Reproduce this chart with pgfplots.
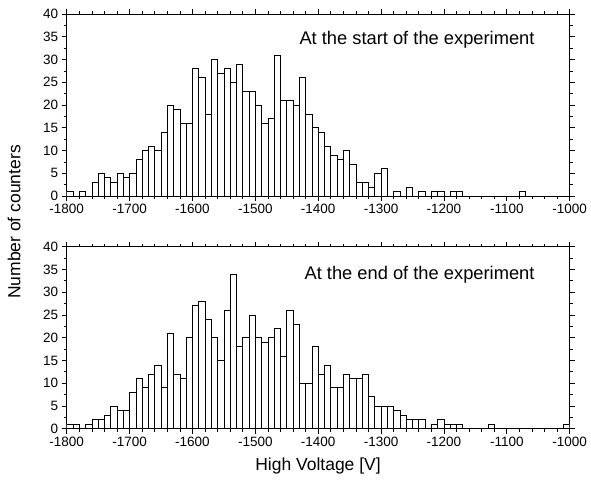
\documentclass[border=0pt]{standalone}
\usepackage{fontspec}
\setmainfont{Liberation Sans}
\usepackage{pgfplots}
\usepackage{pgfplotstable}
\pgfplotsset{compat=1.18}

% counts per 10 V bin, x = bin centre
\pgfplotstableread[row sep=\\]{
x y\\
-1795 1\\ -1785 0\\ -1775 1\\ -1765 0\\ -1755 3\\ -1745 5\\ -1735 4\\ -1725 3\\ -1715 5\\ -1705 4\\
-1695 5\\ -1685 8\\ -1675 10\\ -1665 11\\ -1655 10\\ -1645 14\\ -1635 20\\ -1625 19\\ -1615 16\\ -1605 16\\
-1595 28\\ -1585 26\\ -1575 18\\ -1565 30\\ -1555 27\\ -1545 28\\ -1535 25\\ -1525 29\\ -1515 23\\ -1505 23\\
-1495 20\\ -1485 16\\ -1475 17\\ -1465 31\\ -1455 21\\ -1445 21\\ -1435 20\\ -1425 26\\ -1415 18\\ -1405 15\\
-1395 14\\ -1385 11\\ -1375 9\\ -1365 8\\ -1355 10\\ -1345 7\\ -1335 3\\ -1325 3\\ -1315 2\\ -1305 5\\
-1295 6\\ -1285 0\\ -1275 1\\ -1265 0\\ -1255 2\\ -1245 0\\ -1235 1\\ -1225 0\\ -1215 1\\ -1205 1\\
-1195 0\\ -1185 1\\ -1175 1\\ -1165 0\\ -1155 0\\ -1145 0\\ -1135 0\\ -1125 0\\ -1115 0\\ -1105 0\\
-1095 0\\ -1085 0\\ -1075 1\\ -1065 0\\ -1055 0\\ -1045 0\\ -1035 0\\ -1025 0\\ -1015 0\\ -1005 0\\
}\startdata

\pgfplotstableread[row sep=\\]{
x y\\
-1795 1\\ -1785 1\\ -1775 0\\ -1765 1\\ -1755 2\\ -1745 2\\ -1735 3\\ -1725 5\\ -1715 4\\ -1705 4\\
-1695 8\\ -1685 11\\ -1675 9\\ -1665 12\\ -1655 14\\ -1645 9\\ -1635 21\\ -1625 12\\ -1615 11\\ -1605 20\\
-1595 27\\ -1585 28\\ -1575 24\\ -1565 20\\ -1555 15\\ -1545 26\\ -1535 34\\ -1525 18\\ -1515 20\\ -1505 25\\
-1495 20\\ -1485 19\\ -1475 20\\ -1465 22\\ -1455 16\\ -1445 26\\ -1435 23\\ -1425 10\\ -1415 10\\ -1405 18\\
-1395 12\\ -1385 14\\ -1375 9\\ -1365 9\\ -1355 12\\ -1345 11\\ -1335 11\\ -1325 12\\ -1315 7\\ -1305 5\\
-1295 5\\ -1285 5\\ -1275 4\\ -1265 3\\ -1255 2\\ -1245 2\\ -1235 2\\ -1225 0\\ -1215 1\\ -1205 2\\
-1195 1\\ -1185 1\\ -1175 1\\ -1165 0\\ -1155 0\\ -1145 0\\ -1135 0\\ -1125 1\\ -1115 0\\ -1105 0\\
-1095 0\\ -1085 0\\ -1075 0\\ -1065 0\\ -1055 0\\ -1045 0\\ -1035 0\\ -1025 0\\ -1015 0\\ -1005 1\\
}\enddata

\pgfplotsset{
  hvaxis/.style={
    scale only axis, width=503pt, height=182pt,
    xmin=-1800, xmax=-1000, ymin=0, ymax=40,
    xtick={-1800,-1700,...,-1000}, minor x tick num=4,
    ytick={0,5,...,40}, minor y tick num=1,
    tick align=outside,
    major tick length=5pt, minor tick length=3pt,
    tick style={black, line width=0.7pt},
    axis line style={line width=0.9pt},
    tick label style={font=\fontsize{13.5}{14}\selectfont},
    /pgf/number format/assume math mode=true,
    /pgf/number format/1000 sep={},
  },
  hvbar/.style={ybar, bar width=10, fill=white, draw=black, line width=0.7pt},
}

\begin{document}
\begin{tikzpicture}[x=1pt, y=1pt]
\useasboundingbox (0pt,0pt) rectangle (591pt,481pt);

\begin{axis}[hvaxis, at={(66.7pt,285pt)}, anchor=south west]
  \addplot[hvbar] table[x=x, y=y] {\startdata};
  \node[anchor=base east, font=\fontsize{18.3}{18}\selectfont]
    at (rel axis cs:0.937,0.83) {At the start of the experiment};
\end{axis}

\begin{axis}[hvaxis, at={(66.7pt,52.3pt)}, anchor=south west]
  \addplot[hvbar] table[x=x, y=y] {\enddata};
  \node[anchor=base east, font=\fontsize{18.3}{18}\selectfont]
    at (rel axis cs:0.937,0.818) {At the end of the experiment};
\end{axis}

\node[rotate=90, font=\fontsize{17.5}{18}\selectfont] at (14pt,259pt) {Number of counters};
\node[font=\fontsize{17.5}{18}\selectfont] at (318pt,15pt) {High Voltage [V]};
\end{tikzpicture}
\end{document}
